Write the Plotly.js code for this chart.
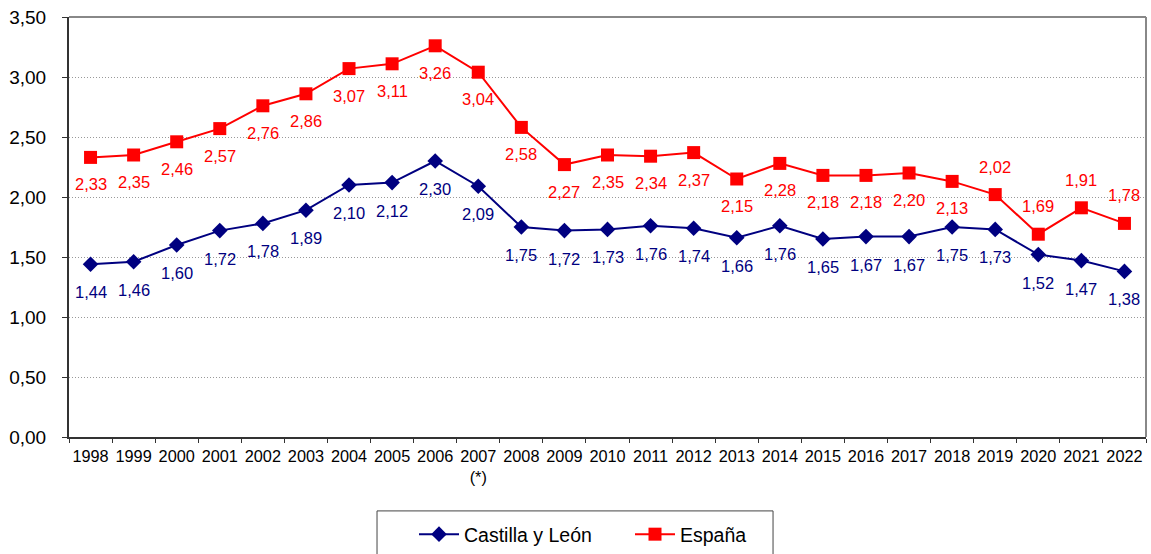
<!DOCTYPE html>
<html><head><meta charset="utf-8">
<script src="https://cdn.plot.ly/plotly-3.0.1.min.js"></script>
<style>body{margin:0;background:#fff}#chart{width:1151px;height:554px}</style>
</head><body><div id="chart"></div>
<script>
const years = ['1998','1999','2000','2001','2002','2003','2004','2005','2006','2007','2008','2009','2010','2011','2012','2013','2014','2015','2016','2017','2018','2019','2020','2021','2022'];
const yearLabels = ['1998','1999','2000','2001','2002','2003','2004','2005','2006','2007<br>(*)','2008','2009','2010','2011','2012','2013','2014','2015','2016','2017','2018','2019','2020','2021','2022'];
const castillaLeon = [1.44,1.46,1.60,1.72,1.78,1.89,2.10,2.12,2.30,2.09,1.75,1.72,1.73,1.76,1.74,1.66,1.76,1.65,1.67,1.67,1.75,1.73,1.52,1.47,1.38];
const espana = [2.33,2.35,2.46,2.57,2.76,2.86,3.07,3.11,3.26,3.04,2.58,2.27,2.35,2.34,2.37,2.15,2.28,2.18,2.18,2.20,2.13,2.02,1.69,1.91,1.78];
const espanaAbove = ['2019','2020','2021','2022'];
const yTicks = [0,0.5,1,1.5,2,2.5,3,3.5];

const fmt = v => v.toFixed(2).replace('.', ',');
const blue = '#000080', red = '#FF0000';
const FONT = 'Liberation Sans, Arial, sans-serif';

const traces = [
  {x: years, y: castillaLeon, name: 'Castilla y León', type: 'scatter', mode: 'lines+markers',
   line: {color: blue, width: 2}, marker: {symbol: 'diamond', size: 12, color: blue}},
  {x: years, y: espana, name: 'España', type: 'scatter', mode: 'lines+markers',
   line: {color: red, width: 2}, marker: {symbol: 'square', size: 13, color: red}}
];

const annotations = [];
years.forEach((yr, i) => {
  annotations.push({xref: 'x', yref: 'y', x: i, y: castillaLeon[i], text: fmt(castillaLeon[i]), showarrow: false,
    yshift: -28, font: {family: FONT, size: 16.5, color: blue}});
  const up = espanaAbove.includes(yr);
  annotations.push({xref: 'x', yref: 'y', x: i, y: espana[i], text: fmt(espana[i]), showarrow: false,
    yshift: up ? 28 : -27, font: {family: FONT, size: 16.5, color: red}});
});

const layout = {
  width: 1151, height: 554,
  margin: {l: 69, r: 5, t: 17, b: 117},
  paper_bgcolor: '#fff', plot_bgcolor: '#fff',
  font: {family: FONT, color: '#000'},
  showlegend: true,
  legend: {orientation: 'h', xref: 'container', x: 414 / 1151, xanchor: 'left',
    yref: 'container', y: (554 - 515) / 554, yanchor: 'top',
    borderwidth: 0, font: {size: 19.5}, itemwidth: 40, entrywidth: 161,
    traceorder: 'normal', bgcolor: 'rgba(0,0,0,0)'},
  xaxis: {type: 'category', tickvals: years, ticktext: yearLabels, tickson: 'boundaries', tickangle: 0,
    ticks: 'outside', ticklen: 4, tickcolor: '#333', showline: true, linecolor: '#333', linewidth: 2,
    showgrid: false, tickfont: {size: 16.3}, ticklabelstandoff: 3, range: [-0.5, years.length - 0.5]},
  yaxis: {range: [0, 3.5], tickvals: yTicks, ticktext: yTicks.map(fmt), ticks: 'outside', ticklen: 5,
    tickcolor: '#333', showline: true, linecolor: '#333', linewidth: 2, showgrid: true,
    gridcolor: '#999', griddash: '1px,2px', gridwidth: 1, tickfont: {size: 19}, ticklabelstandoff: 12,
    zeroline: false},
  shapes: [
    {type: 'line', xref: 'paper', yref: 'paper', x0: 0, x1: 1, y0: 1, y1: 1, line: {color: '#888', width: 2}},
    {type: 'line', xref: 'paper', yref: 'paper', x0: 1, x1: 1, y0: 0, y1: 1, line: {color: '#888', width: 2}},
    {type: 'rect', xref: 'paper', yref: 'paper', x0: 0.286, x1: 0.6537, y0: -0.176, y1: -0.29,
     line: {color: '#444', width: 1}, fillcolor: 'rgba(0,0,0,0)'}
  ],
  annotations: annotations
};

Plotly.newPlot('chart', traces, layout, {staticPlot: true});
</script></body></html>
